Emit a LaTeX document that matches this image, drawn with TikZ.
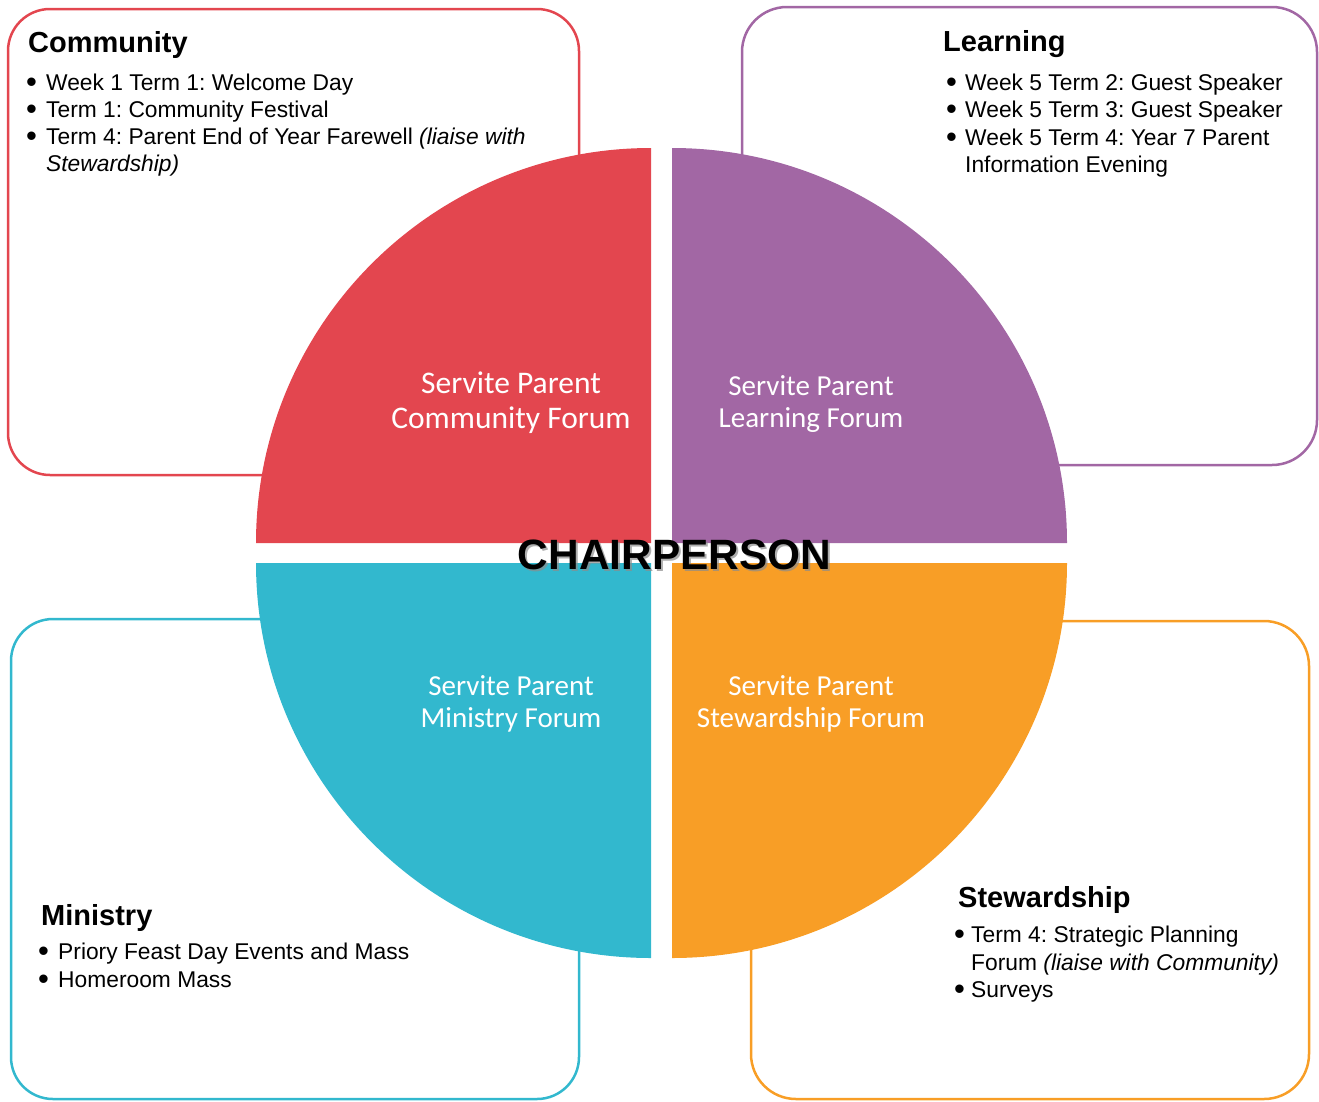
\documentclass[tikz,border=0pt]{standalone}
\usepackage{fontspec}
\setmainfont{Liberation Sans}
\newfontfamily\calib{Carlito}
\definecolor{cred}{HTML}{E3464F}
\definecolor{cpurple}{HTML}{A267A4}
\definecolor{ccyan}{HTML}{32B8CE}
\definecolor{corange}{HTML}{F89E26}
\newcommand{\bigbul}{\smash{\raisebox{-2.5pt}{\fontsize{31}{31}\selectfont\textbullet}}}
\frenchspacing
\begin{document}
\begin{tikzpicture}[x=1pt,y=1pt,
  box/.style={line width=2.5pt,rounded corners=42pt},
  body/.style={anchor=base west,inner sep=0pt,font=\fontsize{22.8}{27}\selectfont},
  ttl/.style={anchor=base west,inner sep=0pt,font=\fontsize{29}{34}\selectfont\bfseries},
  forum/.style={text=white,align=center,inner sep=0pt,font=\calib\fontsize{29}{32}\selectfont},
  chairtxt/.style={inner sep=0pt,font=\fontsize{42.4}{48}\selectfont\bfseries}]
\useasboundingbox (0,0) rectangle (1319,-1101);
% boxes
\draw[box,draw=cred] (8,-9) rectangle (579,-475);
\draw[box,draw=cpurple,rounded corners=45pt] (742,-7) rectangle (1317,-465);
\draw[box,draw=ccyan] (11,-619) rectangle (579,-1099);
\draw[box,draw=corange,rounded corners=45pt] (751,-621) rectangle (1309,-1099);
% quarters
\fill[cred] (651,-543) -- (256,-543) arc[start angle=180,end angle=90,radius=395] -- cycle;
\fill[cpurple] (672,-543) -- (672,-148) arc[start angle=90,end angle=0,radius=395] -- cycle;
\fill[ccyan] (651,-563) -- (256,-563) arc[start angle=180,end angle=270,radius=395] -- cycle;
\fill[corange] (672,-563) -- (1067,-563) arc[start angle=0,end angle=-90,radius=395] -- cycle;
% forum labels
\node[forum,font=\calib\fontsize{31.5}{35}\selectfont] (fcom) at (511,-403) {Servite Parent\\Community Forum};
\node[forum] (flea) at (811,-404) {Servite Parent\\Learning Forum};
\node[forum] (fmin) at (511,-704) {Servite Parent\\Ministry Forum};
\node[forum] (fste) at (811,-704) {Servite Parent\\Stewardship Forum};
% chairperson
\node[chairtxt,text=black!45,opacity=0.7] (chairshadow) at (676.5,-557) {CHAIRPERSON};
\node[chairtxt] (chair) at (674.5,-555) {CHAIRPERSON};
% Community
\node[ttl] (tcom) at (28,-52) {Community};
\node[body] (c1) at (26,-90) {\makebox[20pt][l]{\bigbul}Week 1 Term 1: Welcome Day};
\node[body] (c2) at (26,-117) {\makebox[20pt][l]{\bigbul}Term 1: Community Festival};
\node[body] (c3) at (26,-144) {\makebox[20pt][l]{\bigbul}Term 4: Parent End of Year Farewell \textit{(liaise with}};
\node[body] (c4) at (46,-171) {\textit{Stewardship)}};
% Learning
\node[ttl] (tlea) at (943,-51) {Learning};
\node[body] (l1) at (946,-90) {\makebox[19pt][l]{\bigbul}Week 5 Term 2: Guest Speaker};
\node[body] (l2) at (946,-117) {\makebox[19pt][l]{\bigbul}Week 5 Term 3: Guest Speaker};
\node[body] (l3) at (946,-145) {\makebox[19pt][l]{\bigbul}Week 5 Term 4: Year 7 Parent};
\node[body] (l4) at (965,-172) {Information Evening};
% Ministry
\node[ttl] (tmin) at (41,-925) {Ministry};
\node[body] (m1) at (38,-959) {\makebox[20pt][l]{\bigbul}Priory Feast Day Events and Mass};
\node[body] (m2) at (38,-987) {\makebox[20pt][l]{\bigbul}Homeroom Mass};
% Stewardship
\node[ttl] (tste) at (958,-907) {Stewardship};
\node[body] (s1) at (954,-942) {\makebox[17pt][l]{\bigbul}Term 4: Strategic Planning};
\node[body] (s2) at (971,-970) {Forum \textit{(liaise with Community)}};
\node[body] (s3) at (954,-997) {\makebox[17pt][l]{\bigbul}Surveys};
\end{tikzpicture}
\end{document}
